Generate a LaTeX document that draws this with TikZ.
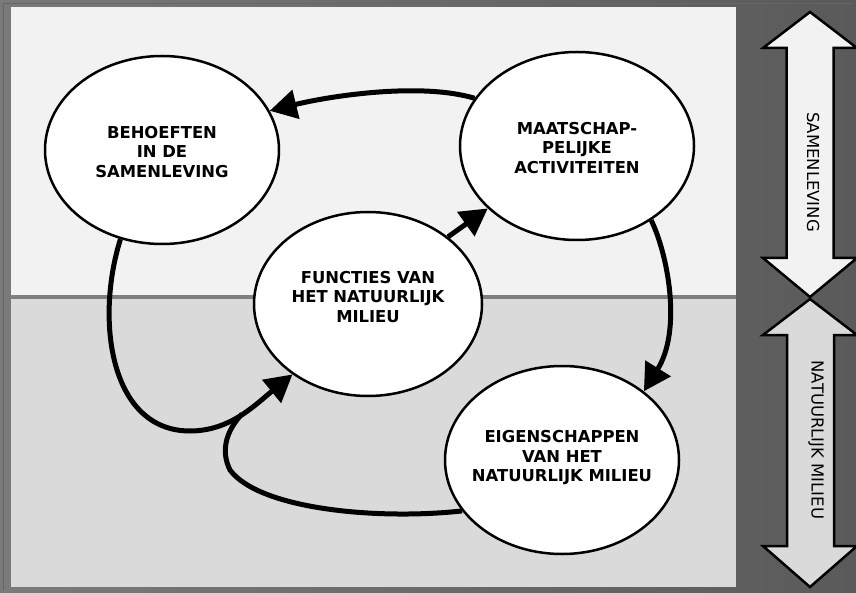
\documentclass[tikz,border=0pt]{standalone}
\usepackage{fontspec}
\setmainfont{DejaVu Sans}
\usetikzlibrary{shapes.geometric,arrows.meta}
\definecolor{frameL}{HTML}{7A7A7A}
\definecolor{frameR}{HTML}{5A5A5A}
\definecolor{topfill}{HTML}{F2F2F2}
\definecolor{botfill}{HTML}{DADADA}
\definecolor{sepgray}{HTML}{808080}
\begin{document}
\begin{tikzpicture}[x=1pt,y=-1pt,
  bubble/.style={ellipse, draw=black, line width=2.5pt, fill=white, inner sep=0pt,
                 minimum width=234pt, minimum height=188pt},
  btext/.style={align=center, inner sep=0pt, font=\bfseries\fontsize{16.4}{19.5}\selectfont},
  flow/.style={line width=5pt, -{Triangle[length=27pt,width=29pt]}},
  flowline/.style={line width=5pt},
  sidearrow/.style={draw=black, line width=2.5pt, line join=miter},
  sidetext/.style={rotate=-90, inner sep=0pt, font=\fontsize{16.5}{18}\selectfont}]
\useasboundingbox (0,0) rectangle (856,593);
% frame
\shade[left color=frameL, right color=frameR] (0,0) rectangle (856,593);
\draw[line width=0.8pt, black!60] (3.5,3.5) -- (852,3.5);
\draw[line width=0.8pt, black!60] (3.5,3.5) -- (3.5,590);
% panels
\fill[topfill] (11,7) rectangle (736,296);
\fill[botfill] (11,299) rectangle (736,587);
\fill[sepgray] (11,295) rectangle (736,299);
% side double arrows
\draw[sidearrow, fill=topfill] (810,12) -- (857,48) -- (833.5,48) -- (833.5,258) -- (857,258)
  -- (810,297) -- (763,258) -- (786.5,258) -- (786.5,48) -- (763,48) -- cycle;
\node[sidetext] (samtxt) at (813,172) {SAMENLEVING};
\draw[sidearrow, fill=botfill] (810,299) -- (857,335) -- (834,335) -- (834,546) -- (857,546)
  -- (810,587) -- (763,546) -- (787,546) -- (787,335) -- (763,335) -- cycle;
\node[sidetext] (nattxt) at (816,440) {NATUURLIJK MILIEU};
% ellipses
\node[bubble] (beh) at (162,150) {};
\node[bubble] (maat) at (577,146) {};
\node[bubble, minimum width=228pt, minimum height=184pt] (func) at (368,304) {};
\node[bubble] (eig) at (562,460) {};
\node[btext] (behT) at (162,152) {BEHOEFTEN\\IN DE\\SAMENLEVING};
\node[btext] (maatT) at (577,148) {MAATSCHAP-\\PELIJKE\\ACTIVITEITEN};
\node[btext] (funcT) at (368,297) {FUNCTIES VAN\\HET NATUURLIJK\\MILIEU};
\node[btext] (eigT) at (562,458) {EIGENSCHAPPEN\\VAN HET\\NATUURLIJK MILIEU};
% connectors
\coordinate (merge) at (242,414);
\draw[flowline] (eig.207) .. controls (380,520) and (260,510) .. (230,470)
  .. controls (221,452) and (225,432) .. (merge);
\draw[flow] (beh.245) .. controls (95,320) and (110,431) .. (190,431)
  .. controls (230,431) and (255,405) .. (func.223);
\draw[flow] (maat.155) .. controls (420,82) and (330,96) .. (beh.20);
\draw[flow] (func.40) -- (maat.215);
\draw[flow] (maat.315) .. controls (668,255) and (682,330) .. (eig.40);
\end{tikzpicture}
\end{document}
